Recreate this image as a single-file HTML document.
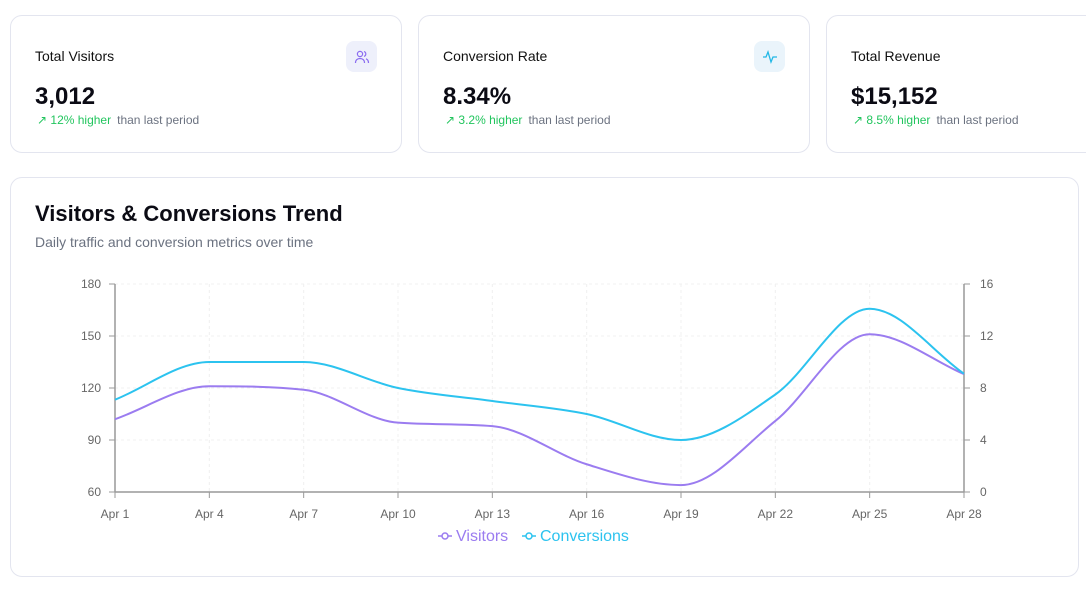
<!DOCTYPE html>
<html><head><meta charset="utf-8"><style>
body{margin:0;width:1086px;height:590px;overflow:hidden;background:#fff;font-family:"Liberation Sans",sans-serif;position:relative}
.card{position:absolute;top:15px;width:392px;height:138px;border:1px solid #e3e5ef;border-radius:12px;background:#fff;box-sizing:border-box}
.card .t{position:absolute;left:24px;top:32px;font-size:14px;color:#111}
.card .v{position:absolute;left:24px;top:67px;font-size:24px;font-weight:bold;color:#0b0b14}
.card .d{position:absolute;left:26px;top:97px;font-size:12px;color:#22c55e}
.card .d span{color:#6b7280;margin-left:6px}
.card .ic{position:absolute;left:335px;top:25px;width:31px;height:31px;border-radius:8px;display:flex;align-items:center;justify-content:center}
#main{position:absolute;left:10px;top:177px;width:1069px;height:400px;border:1px solid #e3e5ef;border-radius:12px;box-sizing:border-box}
</style></head><body>
<div class="card" style="left:10px">
<div class="t">Total Visitors</div>
<div class="ic" style="background:#eef0fb"><svg width="16" height="16" viewBox="0 0 16 16" fill="none" stroke="#8b6cf0" stroke-width="1.2"><circle cx="6" cy="5" r="2.6"/><path d="M1.5 14c0-3 2-4.5 4.5-4.5S10.5 11 10.5 14"/><path d="M10 2.6a2.5 2.5 0 0 1 0 4.8M12 9.8c1.6.6 2.5 2 2.5 4.2"/></svg></div>
<div class="v">3,012</div>
<div class="d">↗ 12% higher<span>than last period</span></div></div>
<div class="card" style="left:418px">
<div class="t">Conversion Rate</div>
<div class="ic" style="background:#eaf4fb"><svg width="16" height="16" viewBox="0 0 16 16" fill="none" stroke="#22b8e6" stroke-width="1.3"><path d="M1 8h3l2-5 3 10 2-5h4"/></svg></div>
<div class="v">8.34%</div>
<div class="d">↗ 3.2% higher<span>than last period</span></div></div>
<div class="card" style="left:826px;width:280px">
<div class="t">Total Revenue</div>
<div class="v">$15,152</div>
<div class="d">↗ 8.5% higher<span>than last period</span></div></div>
<div id="main">
<div style="position:absolute;left:24px;top:23px;font-size:22px;font-weight:bold;color:#0b0b14">Visitors &amp; Conversions Trend</div>
<div style="position:absolute;left:24px;top:56px;font-size:14px;color:#6b7280">Daily traffic and conversion metrics over time</div>
</div>
<svg id="c" width="1086" height="590" style="position:absolute;left:0;top:0"></svg>
<script>
const categories=["Apr 1","Apr 4","Apr 7","Apr 10","Apr 13","Apr 16","Apr 19","Apr 22","Apr 25","Apr 28"];
const visitors=[102,121,119,100,98,76,64,101,151,128];
const conversions=[7.1,10,10,8,7,6,4,7.5,14.1,9.1];
const leftTicks=[60,90,120,150,180];
const rightTicks=[0,4,8,12,16];
const X0=115,X1=964,Y0=492,Y1=284;
const x=i=>X0+(X1-X0)*i/(categories.length-1);
const yl=v=>Y0-(v-60)/120*(Y0-Y1);
const yr=v=>Y0-v/16*(Y0-Y1);
const svg=document.getElementById('c');const NS='http://www.w3.org/2000/svg';
function mk(t,a,p){const e=document.createElementNS(NS,t);for(const k in a)e.setAttribute(k,a[k]);(p||svg).appendChild(e);return e;}
function txt(s,a){const e=mk('text',Object.assign({'font-size':12,fill:'#666','font-family':'Liberation Sans, sans-serif'},a));e.textContent=s;return e;}
leftTicks.forEach((v,i)=>{const y=yl(v);
 if(i>0){const g=mk('line',{x1:X0,x2:X1,y1:y,y2:y,stroke:'#f0f0f0','stroke-dasharray':'3 3'});}
 mk('line',{x1:X0-6,x2:X0,y1:y,y2:y,stroke:'#999'});
 const t=txt(v,{x:X0-14,y:y+4,'text-anchor':'end'});});
rightTicks.forEach(v=>{const y=yr(v);mk('line',{x1:X1,x2:X1+6,y1:y,y2:y,stroke:'#999'});
 const t=txt(v,{x:X1+16,y:y+4});});
categories.forEach((c,i)=>{const xx=x(i);
 if(i>0&&i<categories.length-1)mk('line',{x1:xx,x2:xx,y1:Y1,y2:Y0,stroke:'#f0f0f0','stroke-dasharray':'3 3'});
 mk('line',{x1:xx,x2:xx,y1:Y0,y2:Y0+6,stroke:'#999'});
 const t=txt(c,{x:xx,y:Y0+26,'text-anchor':'middle'});});
mk('line',{x1:X0,x2:X0,y1:Y1,y2:Y0,stroke:'#999','stroke-width':1.5});
mk('line',{x1:X1,x2:X1,y1:Y1,y2:Y0,stroke:'#999','stroke-width':1.5});
mk('line',{x1:X0,x2:X1,y1:Y0,y2:Y0,stroke:'#999','stroke-width':1.5});
function mono(pts){const n=pts.length,d=[],m=[];
 for(let i=0;i<n-1;i++)d.push((pts[i+1][1]-pts[i][1])/(pts[i+1][0]-pts[i][0]));
 for(let i=0;i<n;i++){if(i==0)m.push(d[0]);else if(i==n-1)m.push(d[n-2]);else m.push(d[i-1]*d[i]<=0?0:(d[i-1]+d[i])/2);}
 for(let i=0;i<n-1;i++){if(d[i]==0){m[i]=m[i+1]=0;continue;}const a=m[i]/d[i],b=m[i+1]/d[i],s=a*a+b*b;if(s>9){const t=3/Math.sqrt(s);m[i]=t*a*d[i];m[i+1]=t*b*d[i];}}
 let p='M'+pts[0][0]+','+pts[0][1];
 for(let i=0;i<n-1;i++){const h=(pts[i+1][0]-pts[i][0])/3;p+=` C${pts[i][0]+h},${pts[i][1]+m[i]*h} ${pts[i+1][0]-h},${pts[i+1][1]-m[i+1]*h} ${pts[i+1][0]},${pts[i+1][1]}`;}
 return p;}
const lv=mk('path',{d:mono(visitors.map((v,i)=>[x(i),yl(v)])),fill:'none',stroke:'#9b7cf0','stroke-width':2});

const lc=mk('path',{d:mono(conversions.map((v,i)=>[x(i),yr(v)])),fill:'none',stroke:'#2cc3ef','stroke-width':2});

[[438,'#9b7cf0','Visitors',456],[522,'#2cc3ef','Conversions',540]].forEach(([lx,col,s,tx])=>{
 mk('line',{x1:lx,x2:lx+14,y1:536,y2:536,stroke:col,'stroke-width':1.5});mk('circle',{cx:lx+7,cy:536,r:3,fill:'#fff',stroke:col,'stroke-width':1.5});
 const t=txt(s,{x:tx,y:541,fill:col,'font-size':16});});
</script>
</body></html>
